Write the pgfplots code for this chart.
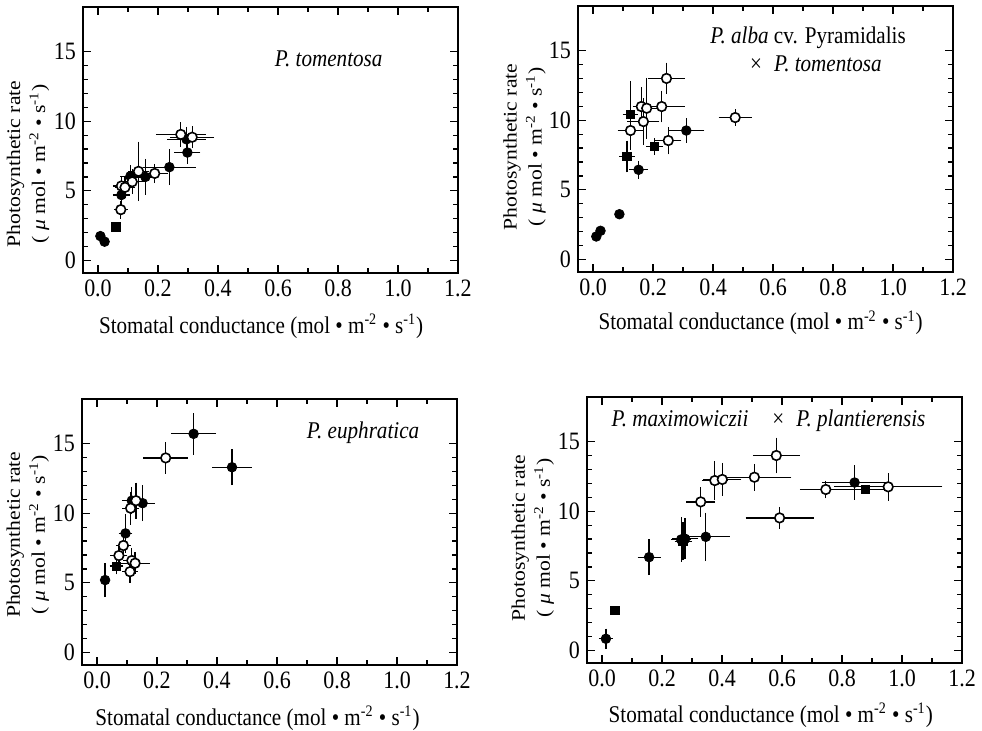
\documentclass[border=0pt]{standalone}
\usepackage{fontspec}
\setmainfont{Liberation Serif}[FakeStretch=0.88]
\usepackage{graphicx}
\usepackage{pgfplots}
\pgfplotsset{compat=1.18}
\usepackage{pgfplotstable}

% columns: x y ex ey
\pgfplotstableread{
x y ex ey
0.008 1.75 0 0
0.022 1.35 0 0
0.078 4.70 0.015 0.5
0.108 6.05 0.02 0.5
0.158 6.00 0.02 1.0
0.238 6.70 0.075 1.0
0.295 8.70 0.05 0.6
0.298 7.75 0.03 0.5
}\Afc
\pgfplotstableread{
x y ex ey
0.076 3.65 0.01 0.35
0.078 5.35 0.015 0.4
0.090 5.25 0.02 0.5
0.114 5.65 0.03 0.6
0.135 6.40 0.02 1.85
0.189 6.25 0.03 0.4
0.276 9.05 0.07 0.6
0.314 8.85 0.06 0.5
}\Aoc
\pgfplotstableread{
x y ex ey
0.060 2.40 0 0
}\Afs

\pgfplotstableread{
x y ex ey
0.011 1.65 0 0
0.025 2.06 0 0
0.088 3.25 0 0
0.152 6.44 0.018 0.35
0.311 9.26 0.047 0.6
}\Bfc
\pgfplotstableread{
x y ex ey
0.125 9.26 0.03 1.1
0.161 10.98 0.015 1.1
0.168 9.90 0.04 1.4
0.179 10.86 0.02 1.9
0.229 10.98 0.063 0.85
0.245 13.00 0.047 0.84
0.251 8.54 0.03 0.7
0.474 10.19 0.042 0.3
}\Boc
\pgfplotstableread{
x y ex ey
0.113 7.39 0.012 0.85
0.124 10.43 0.012 2.1
0.205 8.11 0.015 0.3
}\Bfs

\pgfplotstableread{
x y ex ey
0.027 5.20 0 0.93
0.095 8.55 0.01 1.1
0.116 10.90 0.02 0.7
0.152 10.72 0.028 1.0
0.322 15.70 0.062 1.2
0.450 13.30 0.052 1.0
}\Cfc
\pgfplotstableread{
x y ex ey
0.073 6.96 0.015 0.5
0.088 7.68 0.012 0.4
0.110 5.80 0.012 0.5
0.116 6.60 0.015 0.6
0.127 6.41 0.035 0.5
0.112 10.36 0.015 0.9
0.130 10.90 0.015 1.0
0.229 13.97 0.061 0.84
}\Coc
\pgfplotstableread{
x y ex ey
0.065 6.20 0.01 0.3
}\Cfs

\pgfplotstableread{
x y ex ey
0.013 0.84 0.01 0.45
0.157 6.70 0.025 1.0
0.264 7.97 0.02 1.3
0.277 8.02 0.03 1.2
0.346 8.16 0.067 1.45
0.842 12.06 0.095 0.95
}\Dfc
\pgfplotstableread{
x y ex ey
0.329 10.67 0.035 0.78
0.376 12.20 0.03 1.1
0.401 12.28 0.05 0.9
0.508 12.44 0.11 0.68
0.581 14.00 0.065 1.0
0.592 9.52 0.1 0.5
0.746 11.56 0.073 0.35
0.954 11.75 0.167 0.7
}\Doc
\pgfplotstableread{
x y ex ey
0.043 2.87 0 0
0.270 7.85 0.015 1.1
0.877 11.56 0.05 0
}\Dfs

\newcommand{\lbl}{\fontsize{12}{14.5}\selectfont}
\newcommand{\ylab}{\scalebox{1}[0.78]{\fontsize{12.3}{16}\selectfont
  \begin{tabular}{@{}c@{}}Photosynthetic rate\\( \textit{μ} mol • m\textsuperscript{-2} • s\textsuperscript{-1})\end{tabular}}}

\pgfplotsset{
  panel/.style={
    scale only axis, width=187.5pt, height=133pt,
    xmin=-0.05, xmax=1.2, ymin=-0.9, ymax=18.2,
    xtick={0,0.2,0.4,0.6,0.8,1.0,1.2}, minor x tick num=1,
    ytick={0,5,10,15}, minor y tick num=4,
    tick align=inside, major tick length=4pt, minor tick length=2.5pt,
    every tick/.style={black, line width=0.6pt},
    axis line style={line width=0.9pt},
    /pgf/number format/assume math mode=true,
    xticklabel style={/pgf/number format/fixed, /pgf/number format/fixed zerofill, /pgf/number format/precision=1},
    ticklabel style={font=\fontsize{12.5}{14}\selectfont},
    xlabel={Stomatal conductance (mol • m\textsuperscript{-2} • s\textsuperscript{-1})},
    ylabel={\ylab},
    every axis y label/.style={rotate=90, anchor=south, inner sep=0pt},
    every axis x label/.style={anchor=base, font=\lbl},
    clip=false,
  },
  ser/.style={only marks, black, mark size=2.4pt,
    error bars/x dir=both, error bars/x explicit,
    error bars/y dir=both, error bars/y explicit,
    error bars/error bar style={line width=0.65pt, black},
    error bars/error mark options={line width=0.65pt, mark size=2pt, black}},
  fc/.style={ser, mark=*, mark options={fill=black, draw=black}},
  oc/.style={ser, mark=*, mark options={fill=white, draw=black, line width=0.8pt}},
  fs/.style={ser, mark=square*, mark size=2.1pt, mark options={fill=black, draw=black}},
}

\newcommand{\series}[3]{%
  \addplot[fc] table[x=x,y=y,x error=ex,y error=ey]{#1};
  \addplot[fs] table[x=x,y=y,x error=ex,y error=ey]{#3};
  \addplot[oc] table[x=x,y=y,x error=ex,y error=ey]{#2};
}

\begin{document}
\begin{tikzpicture}
\useasboundingbox (0pt,0pt) rectangle (491pt,-365pt);

\begin{axis}[panel, at={(41.5pt,-136.5pt)}, anchor=south west,
  ylabel style={at={(rel axis cs:-0.08,0.41)}},
  xlabel style={at={(rel axis cs:0.475,-0.226)}}]
\series{\Afc}{\Aoc}{\Afs}
\node[font=\lbl\itshape] at (axis cs:0.769,14.46) {P. tomentosa};
\end{axis}

\begin{axis}[panel, at={(289pt,-136pt)}, anchor=south west,
  ylabel style={at={(rel axis cs:-0.076,0.47)}},
  xlabel style={at={(rel axis cs:0.487,-0.217)}}]
\series{\Bfc}{\Boc}{\Bfs}
\node[font=\lbl] at (axis cs:0.717,15.9) {\textit{P. alba} cv. Pyramidalis};
\node[font=\lbl] at (axis cs:0.743,14.05) {×\enspace\textit{P. tomentosa}};
\end{axis}

\begin{axis}[panel, at={(41pt,-332.5pt)}, anchor=south west,
  ylabel style={at={(rel axis cs:-0.078,0.49)}},
  xlabel style={at={(rel axis cs:0.468,-0.228)}}]
\series{\Cfc}{\Coc}{\Cfs}
\node[font=\lbl\itshape] at (axis cs:0.887,15.8) {P. euphratica};
\end{axis}

\begin{axis}[panel, at={(293.5pt,-331.5pt)}, anchor=south west,
  ylabel style={at={(rel axis cs:-0.078,0.47)}},
  xlabel style={at={(rel axis cs:0.49,-0.224)}}]
\series{\Dfc}{\Doc}{\Dfs}
\node[font=\lbl] at (axis cs:0.555,16.5) {\textit{P. maximowiczii}\quad×\enspace\textit{P. plantierensis}};
\end{axis}
\end{tikzpicture}
\end{document}
